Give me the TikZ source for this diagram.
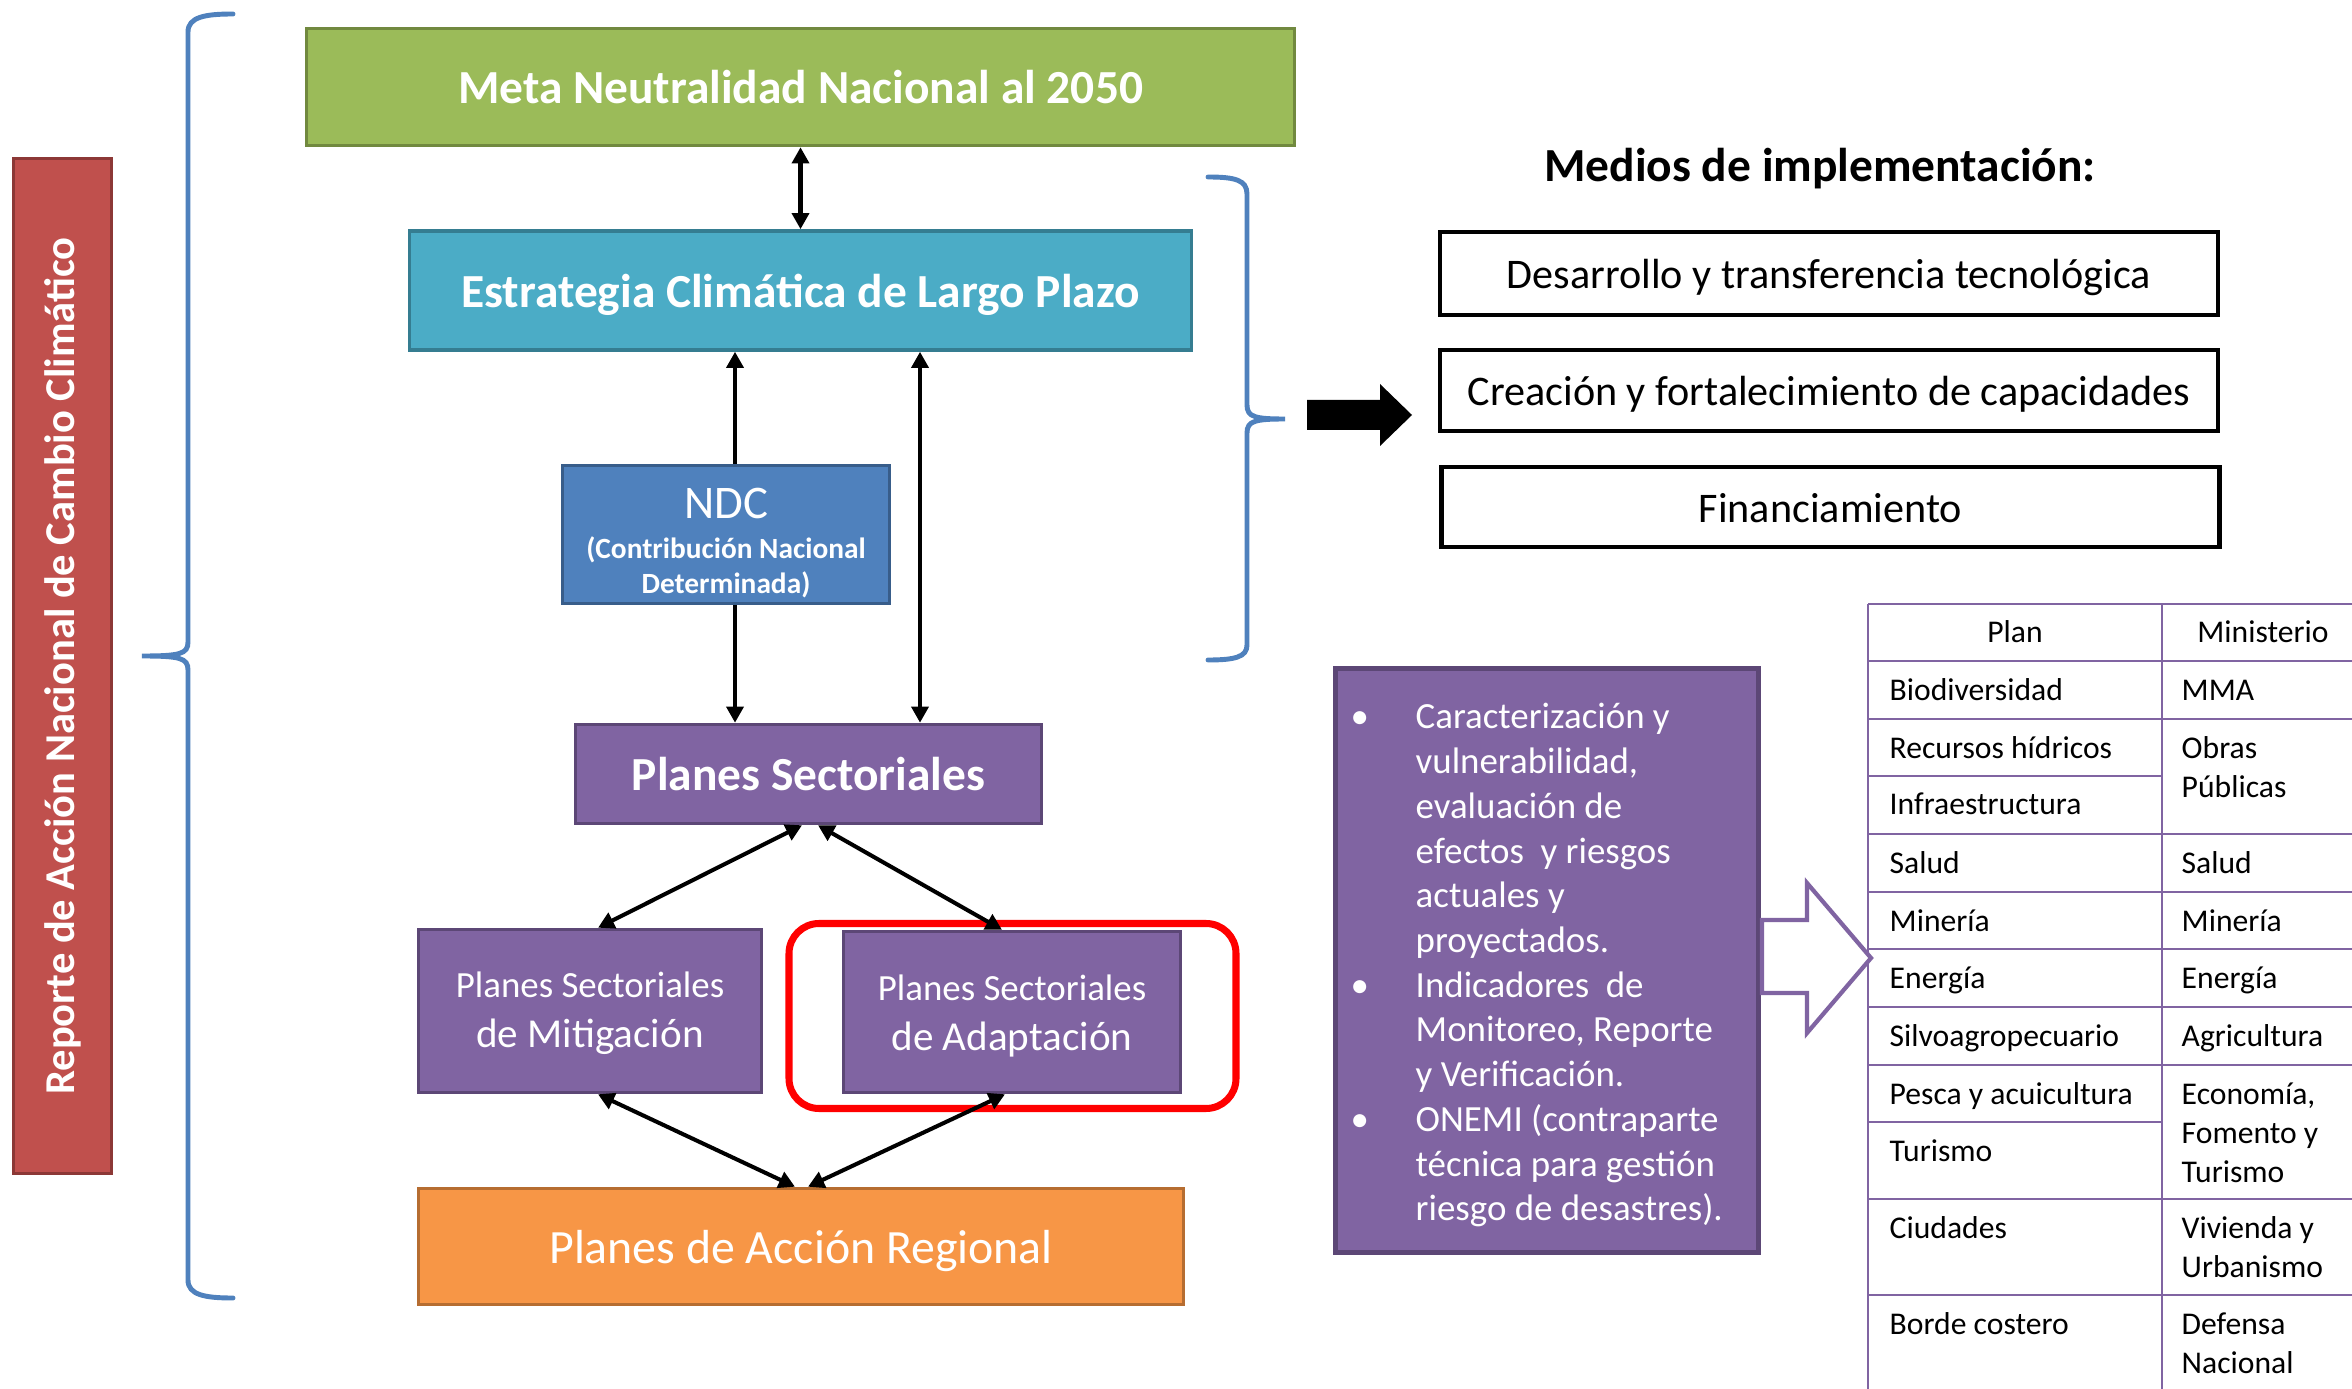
\documentclass[tikz,border=0pt]{standalone}
\usepackage{fontspec}
\setmainfont{Carlito}
\usetikzlibrary{arrows.meta,calc}
\definecolor{cgreen}{HTML}{9BBB59}\definecolor{cgreenD}{HTML}{71893F}
\definecolor{caqua}{HTML}{4BACC6}\definecolor{caquaD}{HTML}{357D91}
\definecolor{cblue}{HTML}{4F81BD}\definecolor{cblueD}{HTML}{385D8A}
\definecolor{cpurp}{HTML}{8064A2}\definecolor{cpurpD}{HTML}{5C4776}
\definecolor{corng}{HTML}{F79646}\definecolor{corngD}{HTML}{B66D31}
\definecolor{cred}{HTML}{C0504D}\definecolor{credD}{HTML}{8C3836}
\definecolor{cbrace}{HTML}{4F81BD}
\newcommand\fs[2]{\fontsize{#1}{#2}\selectfont}
\newcommand\tcell[1]{\begin{tabular}[t]{@{}l@{}}#1\end{tabular}}
\tikzset{
  cbox/.style={draw, line width=1pt, inner sep=0pt, text=white, align=center},
  gbox/.style={cbox, fill=cgreen, draw=cgreenD},
  abox/.style={cbox, fill=caqua, draw=caquaD},
  bbox/.style={cbox, fill=cblue, draw=cblueD},
  pbox/.style={cbox, fill=cpurp, draw=cpurpD},
  obox/.style={cbox, fill=corng, draw=corngD},
  rbox/.style={cbox, fill=cred, draw=credD},
  oneline/.style={text height=12pt, text depth=2.4pt},
  title/.style={font=\bfseries\fs{13.5}{16}, oneline},
  mbox/.style={draw=black, line width=1.2pt, inner sep=0pt, text=black, font=\fs{12}{14}, text height=10pt, text depth=1.4pt},
  tip/.tip={Triangle[length=4.6pt,width=4.8pt]},
  arr/.style={line width=1.15pt, -tip},
  darr/.style={line width=1.15pt, tip-tip},
  bracepath/.style={draw=cbrace, line width=1.4pt, line cap=round},
  tline/.style={draw=cpurp, line width=0.8pt},
  tx/.style={inner sep=0pt, text=black, font=\fs{9}{11.1}},
}
\begin{document}
\begin{tikzpicture}[x=1cm,y=1cm]
\useasboundingbox (0,0) rectangle (23.52,-13.89);
\clip (0,0) rectangle (23.52,-13.89);
\fill[white] (0,0) rectangle (23.52,-13.89);

% left red vertical box
\node[rbox, minimum width=0.98cm, minimum height=10.15cm] (rep) at (0.625,-6.66)
  {\rotatebox{90}{\bfseries\fs{12.1}{14}Reporte de Acción Nacional de Cambio Climático}};

% braces
\draw[bracepath] (2.33,-0.14) .. controls (2.05,-0.14) and (1.88,-0.17) .. (1.88,-0.32)
  -- (1.88,-6.42) .. controls (1.88,-6.54) and (1.80,-6.56) .. (1.42,-6.56)
  .. controls (1.80,-6.56) and (1.88,-6.58) .. (1.88,-6.70)
  -- (1.88,-12.80) .. controls (1.88,-12.95) and (2.05,-12.98) .. (2.33,-12.98);
\draw[bracepath] (12.08,-1.77) .. controls (12.35,-1.77) and (12.47,-1.80) .. (12.47,-1.94)
  -- (12.47,-4.05) .. controls (12.47,-4.17) and (12.55,-4.19) .. (12.85,-4.19)
  .. controls (12.55,-4.19) and (12.47,-4.21) .. (12.47,-4.33)
  -- (12.47,-6.45) .. controls (12.47,-6.57) and (12.35,-6.60) .. (12.08,-6.60);

% main column
\node[gbox, title, minimum width=9.88cm, minimum height=1.17cm] (meta) at (8.005,-0.87) {Meta Neutralidad Nacional al 2050};
\node[abox, title, minimum width=7.82cm, minimum height=1.19cm] (est) at (8.005,-2.905) {Estrategia Climática de Largo Plazo};
\node[bbox, minimum width=3.27cm, minimum height=1.38cm, font=\bfseries\fs{8.35}{10}] (ndc) at (7.26,-5.345)
  {{\mdseries\fs{13.3}{16}\rule{0pt}{13.5pt}NDC}\\[1.2pt](Contribución Nacional\\Determinada)};
\node[pbox, title, minimum width=4.66cm, minimum height=0.99cm] (ps) at (8.085,-7.74) {Planes Sectoriales};
\node[pbox, minimum width=3.43cm, minimum height=1.63cm, font=\fs{11.7}{14.2}] (mit) at (5.90,-10.11)
  {{\fs{10.5}{12}\rule{0pt}{8.8pt}Planes Sectoriales}\\de Mitigación};
\node[pbox, minimum width=3.37cm, minimum height=1.61cm, font=\fs{11.7}{14.2}] (ada) at (10.12,-10.12)
  {{\fs{10.5}{12}\rule{0pt}{9.4pt}Planes Sectoriales}\\de Adaptación};
\node[draw=red, line width=2pt, rounded corners=0.3cm, minimum width=4.47cm, minimum height=1.85cm, inner sep=0pt] (hl) at (10.125,-10.16) {};
\node[obox, minimum width=7.65cm, minimum height=1.16cm, font=\fs{13.6}{16}, oneline] (reg) at (8.01,-12.465) {Planes de Acción Regional};

% connectors
\coordinate (xa) at (7.35,0);
\coordinate (xb) at (9.20,0);
\draw[darr] (meta.south) -- (est.north);
\draw[arr] (ndc.north -| xa) -- (est.south -| xa);
\draw[arr] (ndc.south -| xa) -- (ps.north -| xa);
\draw[darr] (ps.north -| xb) -- (est.south -| xb);
\draw[darr] ($(ps.south)+(-0.065,0)$) -- ($(mit.north)+(0.08,0)$);
\draw[darr] ($(ps.south)+(0.095,0)$) -- ($(ada.north)+(-0.10,0)$);
\draw[darr] ($(mit.south)+(0.08,0)$) -- ($(reg.north)+(-0.06,0)$);
\draw[darr] ($(ada.south)+(-0.07,0)$) -- ($(reg.north)+(0.07,0)$);

% medios de implementacion
\node[inner sep=0pt, font=\bfseries\fs{13.5}{16}] (mtitle) at (18.20,-1.69) {Medios de implementación:};
\node[mbox, minimum width=7.78cm, minimum height=0.83cm] (m1) at (18.29,-2.735) {Desarrollo y transferencia tecnológica};
\node[mbox, minimum width=7.78cm, minimum height=0.81cm] (m2) at (18.29,-3.905) {Creación y fortalecimiento de capacidades};
\node[mbox, minimum width=7.78cm, minimum height=0.80cm] (m3) at (18.305,-5.07) {Financiamiento};
\fill[black] (13.07,-4.00) -- (13.80,-4.00) -- (13.80,-3.84) -- (14.12,-4.15) -- (13.80,-4.46) -- (13.80,-4.30) -- (13.07,-4.30) -- cycle;

% table
\draw[tline] (18.68,-6.04) -- (18.68,-14.2);
\draw[tline] (21.62,-6.04) -- (21.62,-14.2);
\foreach \yy in {6.04,6.61,7.19,8.34,8.92,9.49,10.07,10.65,11.99,12.95} {\draw[tline] (18.68,-\yy) -- (23.7,-\yy);}
\foreach \yy in {7.76,11.22} {\draw[tline] (18.68,-\yy) -- (21.62,-\yy);}
\node[tx, anchor=base] (h1) at (20.15,-6.43) {Plan};
\node[tx, anchor=base] (h2) at (22.63,-6.43) {Ministerio};
\node[tx, anchor=base west] (p1) at (18.89,-7.00) {Biodiversidad};
\node[tx, anchor=base west] (p2) at (18.89,-7.58) {Recursos hídricos};
\node[tx, anchor=base west] (p3) at (18.89,-8.15) {Infraestructura};
\node[tx, anchor=base west] (p4) at (18.89,-8.73) {Salud};
\node[tx, anchor=base west] (p5) at (18.89,-9.31) {Minería};
\node[tx, anchor=base west] (p6) at (18.89,-9.88) {Energía};
\node[tx, anchor=base west] (p7) at (18.89,-10.46) {Silvoagropecuario};
\node[tx, anchor=base west] (p8) at (18.89,-11.04) {Pesca y acuicultura};
\node[tx, anchor=base west] (p9) at (18.89,-11.61) {Turismo};
\node[tx, anchor=base west] (p10) at (18.89,-12.38) {Ciudades};
\node[tx, anchor=base west] (p11) at (18.89,-13.34) {Borde costero};
\node[tx, anchor=base west] (q1) at (21.81,-7.00) {MMA};
\node[tx, anchor=base west] (q2) at (21.81,-7.58) {\tcell{Obras\\Públicas}};
\node[tx, anchor=base west] (q4) at (21.81,-8.73) {Salud};
\node[tx, anchor=base west] (q5) at (21.81,-9.31) {Minería};
\node[tx, anchor=base west] (q6) at (21.81,-9.88) {Energía};
\node[tx, anchor=base west] (q7) at (21.81,-10.46) {Agricultura};
\node[tx, anchor=base west] (q8) at (21.81,-11.04) {\tcell{Economía,\\Fomento y\\Turismo}};
\node[tx, anchor=base west] (q10) at (21.81,-12.38) {\tcell{Vivienda y\\Urbanismo}};
\node[tx, anchor=base west] (q11) at (21.81,-13.34) {\tcell{Defensa\\Nacional}};

% purple bullet box
\node[pbox, line width=1.2pt, minimum width=4.23cm, minimum height=5.84cm] (bul) at (15.47,-9.605) {};
\node[inner sep=0pt, text=white, anchor=base west, font=\fs{10.5}{12.72}] (bultext) at (13.50,-7.29)
  {\begin{tabular}[t]{@{}l@{}l@{}}
  \makebox[0.65cm][l]{•}&Caracterización y\\
  &vulnerabilidad,\\
  &evaluación de\\
  &efectos\ \ y riesgos\\
  &actuales y\\
  &proyectados.\\
  \makebox[0.65cm][l]{•}&Indicadores\ \ de\\
  &Monitoreo, Reporte\\
  &y Verificación.\\
  \makebox[0.65cm][l]{•}&ONEMI (contraparte\\
  &técnica para gestión\\
  &riesgo de desastres).
  \end{tabular}};
\draw[draw=cpurp, line width=1.2pt, fill=white, line join=miter]
  (17.62,-9.20) -- (18.07,-9.20) -- (18.07,-8.83) -- (18.71,-9.58) -- (18.07,-10.33) -- (18.07,-9.93) -- (17.62,-9.93) -- cycle;
\end{tikzpicture}
\end{document}
